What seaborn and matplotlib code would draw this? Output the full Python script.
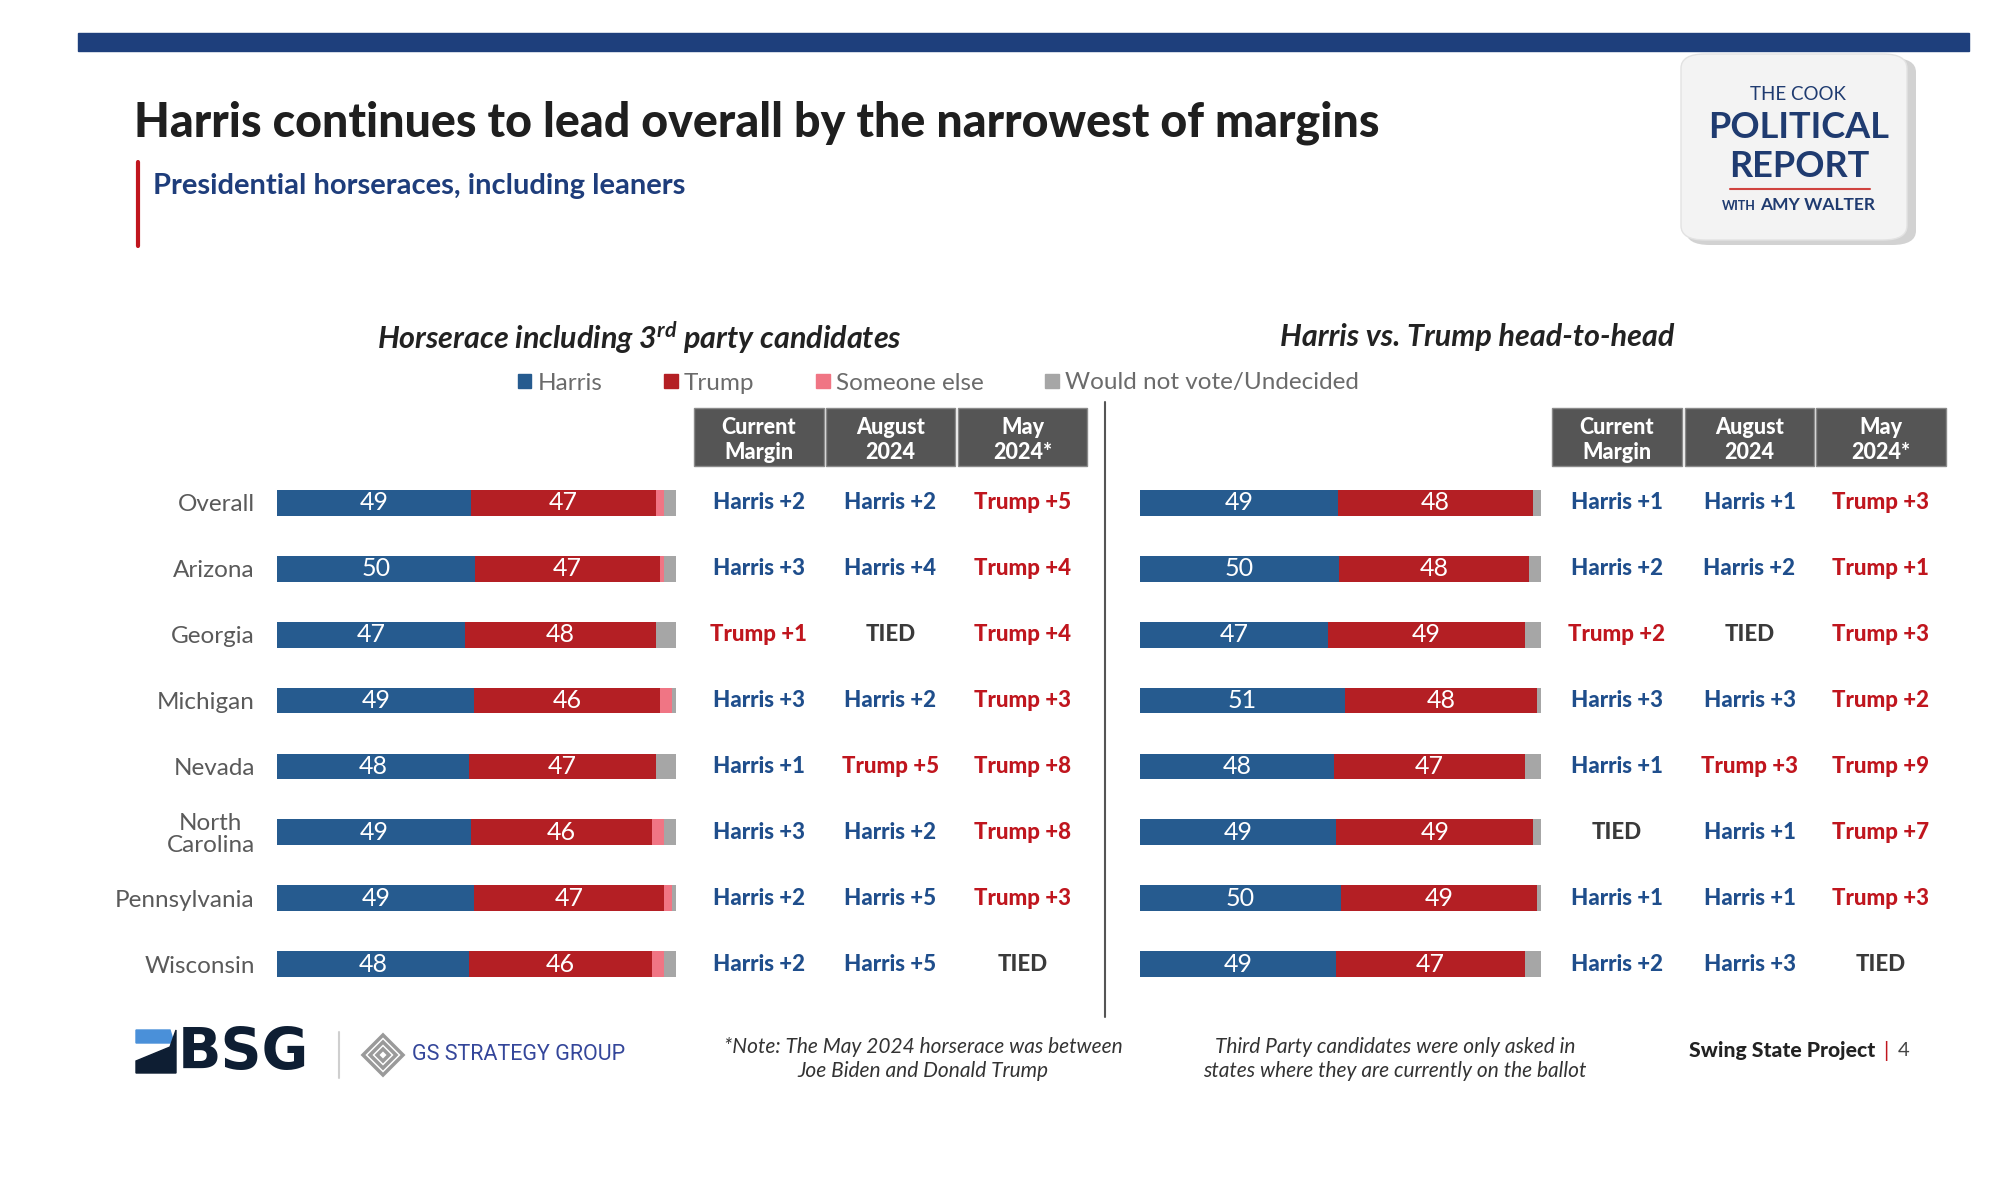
#Swing state horserace chart - two stacked bar panels with margin tables
import seaborn as sns
import numpy as np
import pandas as pd
import matplotlib.pyplot as plt
from matplotlib.patches import Rectangle, FancyBboxPatch, Patch, Polygon
from matplotlib.lines import Line2D
from matplotlib.transforms import blended_transform_factory

#states (rows) shown in both panels
states=['Overall','Arizona','Georgia','Michigan','Nevada','North\nCarolina','Pennsylvania','Wisconsin']

#horserace including 3rd party candidates (%)
harris_3p=[49,50,47,49,48,49,49,48]
trump_3p=[47,47,48,46,47,46,47,46]
someone_3p=[2,1,0,3,0,3,2,3]
undecided_3p=[3,3,5,1,5,3,1,3]

#harris vs trump head-to-head (%)
harris_h2h=[49,50,47,51,48,49,50,49]
trump_h2h=[48,48,49,48,47,49,49,47]
someone_h2h=[0,0,0,0,0,0,0,0]
undecided_h2h=[2,3,4,1,4,2,1,4]

#margin tables
margin_cols=['Current\nMargin','August\n2024','May\n2024*']
current_3p=['Harris +2','Harris +3','Trump +1','Harris +3','Harris +1','Harris +3','Harris +2','Harris +2']
august_3p=['Harris +2','Harris +4','TIED','Harris +2','Trump +5','Harris +2','Harris +5','Harris +5']
may_3p=['Trump +5','Trump +4','Trump +4','Trump +3','Trump +8','Trump +8','Trump +3','TIED']
current_h2h=['Harris +1','Harris +2','Trump +2','Harris +3','Harris +1','TIED','Harris +1','Harris +2']
august_h2h=['Harris +1','Harris +2','TIED','Harris +3','Trump +3','Harris +1','Harris +1','Harris +3']
may_h2h=['Trump +3','Trump +1','Trump +3','Trump +2','Trump +9','Trump +7','Trump +3','TIED']

legend_labels=['Harris','Trump','Someone else','Would not vote/Undecided']

#colors
BLUE='#265B8F'
RED='#B41F24'
PINK='#F07584'
GRAY='#A6A6A6'
NAVY='#1E3F7C'
HEAD='#555555'

sns.set_theme(style="white")
plt.rcParams['font.family']=['Lato','DejaVu Sans']
plt.rcParams['mathtext.fontset']='custom'
plt.rcParams['mathtext.bf']='Lato:bold:italic'

W,H=2000,1187
fig=plt.figure(figsize=(20,11.87),dpi=100)
fig.patch.set_facecolor('white')

#pixel -> figure fraction helpers
def fx(x):
    return x/W
def fy(y):
    return 1-y/H

#row area: first row centre ~503px, last ~964px
row_top=503-33
row_bot=964+33

def draw_panel(ax,h,t,s,u,show_labels):
    df=pd.DataFrame({'state':states,'h':h,'t':t,'s':s,'u':u})
    tot=df[['h','t','s','u']].sum(axis=1)
    for c in ['h','t','s','u']:
        df[c]=df[c]/tot*100
    df['c1']=df['h']
    df['c2']=df['c1']+df['t']
    df['c3']=df['c2']+df['s']
    df['c4']=df['c3']+df['u']
    #stacked bars: draw cumulative totals from back to front
    for col,color in [('c4',GRAY),('c3',PINK),('c2',RED),('c1',BLUE)]:
        sns.barplot(data=df,x=col,y='state',color=color,saturation=1,width=0.39,
                    orient='h',ax=ax,linewidth=0)
    ax.set_xlim(0,100)
    ax.set_ylim(len(states)-0.5,-0.5)
    ax.set_xlabel('')
    ax.set_ylabel('')
    ax.set_xticks([])
    sns.despine(ax=ax,left=True,bottom=True)
    ax.tick_params(axis='y',length=0,pad=16,labelsize=17.5,labelcolor='#5a5a5a')
    if not show_labels:
        ax.set_yticklabels([])
    else:
        for lab in ax.get_yticklabels():
            lab.set_multialignment('center')
            lab.set_linespacing(1.05)
    #value labels in the bars
    for i in range(len(df)):
        ax.text(df['c1'][i]/2,i,str(h[i]),color='white',ha='center',va='center',fontsize=18)
        ax.text(df['c1'][i]+df['t'][i]/2,i,str(t[i]),color='white',ha='center',va='center',fontsize=18)

ax1=fig.add_axes([fx(277),fy(row_bot),fx(676-277),(row_bot-row_top)/H])
ax2=fig.add_axes([fx(1140),fy(row_bot),fx(1541-1140),(row_bot-row_top)/H])
draw_panel(ax1,harris_3p,trump_3p,someone_3p,undecided_3p,True)
draw_panel(ax2,harris_h2h,trump_h2h,someone_h2h,undecided_h2h,False)

#margin tables
def draw_table(ax,boxes,columns):
    tr=blended_transform_factory(fig.transFigure,ax.transData)
    for (x0,x1),name,vals in zip(boxes,margin_cols,columns):
        fig.add_artist(Rectangle((fx(x0),fy(466)),fx(x1-x0),(466-408)/H,
                                 transform=fig.transFigure,facecolor=HEAD,edgecolor='#8a8a8a',lw=1))
        fig.text(fx((x0+x1)/2),fy(440),name,color='white',ha='center',va='center',
                 fontsize=15.5,fontweight='black',linespacing=1.2)
        for i,v in enumerate(vals):
            if v.startswith('Harris'):
                c='#1F4E8C'
            elif v.startswith('Trump'):
                c='#C0161E'
            else:
                c='#3a3a3a'
            ax.text(fx((x0+x1)/2),i,v,transform=tr,color=c,ha='center',va='center',
                    fontsize=16,fontweight='black')

draw_table(ax1,[(694,824),(826,955),(958,1087)],[current_3p,august_3p,may_3p])
draw_table(ax2,[(1552,1682),(1685,1814),(1816,1946)],[current_h2h,august_h2h,may_h2h])

#divider between panels
fig.add_artist(Line2D([fx(1105)]*2,[fy(402),fy(1017)],color='#555555',lw=1.5))

#top banner
fig.add_artist(Rectangle((fx(78),fy(51)),fx(1969-78),18/H,transform=fig.transFigure,color=NAVY))

#title and subtitle
fig.text(fx(134),fy(123),'Harris continues to lead overall by the narrowest of margins',
         fontsize=33.5,fontweight='black',color='#1f1f1f',va='center',ha='left')
fig.add_artist(Line2D([fx(138)]*2,[fy(162),fy(246)],color='#C0161E',lw=3))
fig.text(fx(153),fy(186),'Presidential horseraces, including leaners',
         fontsize=21,fontweight='bold',color='#1E3D7B',va='center',ha='left')

#panel titles
fig.text(fx(639),fy(337),r'Horserace including 3$^{\mathbf{rd}}$ party candidates',
         fontsize=22,fontweight='bold',style='italic',color='#222222',ha='center',va='center')
fig.text(fx(1477),fy(337),'Harris vs. Trump head-to-head',
         fontsize=22,fontweight='bold',style='italic',color='#222222',ha='center',va='center')

#legend
handles=[Patch(color=c) for c in [BLUE,RED,PINK,GRAY]]
fig.legend(handles,legend_labels,loc='center left',bbox_to_anchor=(fx(518),fy(383)),ncol=4,
           frameon=False,fontsize=17.5,labelcolor='#6b6b6b',handlelength=0.55,handleheight=0.55,
           handletextpad=0.25,columnspacing=2.55,borderpad=0,borderaxespad=0)

#cook political report logo box
fig.add_artist(FancyBboxPatch((fx(1686),fy(245)),fx(1913-1683),(245-58)/H,
               boxstyle='round,pad=0,rounding_size=0.012',transform=fig.transFigure,
               facecolor='#d2d2d2',edgecolor='none'))
fig.add_artist(FancyBboxPatch((fx(1681),fy(240)),fx(1907-1681),(240-54)/H,
               boxstyle='round,pad=0,rounding_size=0.012',transform=fig.transFigure,
               facecolor='#f3f3f3',edgecolor='#e2e2e2',lw=1))
fig.text(fx(1798),fy(95),'THE COOK',fontsize=13.5,color='#1F3B70',ha='center',va='center')
fig.text(fx(1799),fy(127),'POLITICAL',fontsize=26,fontweight='bold',color='#1F3B70',ha='center',va='center')
fig.text(fx(1799),fy(167),'REPORT',fontsize=26,fontweight='bold',color='#1F3B70',ha='center',va='center')
fig.add_artist(Line2D([fx(1730),fx(1870)],[fy(189)]*2,color='#D0433F',lw=1.5))
fig.text(fx(1756),fy(206),'WITH',fontsize=9,color='#1F3B70',ha='right',va='center',fontweight='bold')
fig.text(fx(1760),fy(205),'AMY WALTER',fontsize=12.5,color='#1F3B70',ha='left',va='center',fontweight='bold')

#BSG logo
fig.add_artist(Polygon([[fx(136),fy(1043)],[fx(174),fy(1043)],[fx(170),fy(1030)],[fx(136),fy(1030)]],
               closed=True,transform=fig.transFigure,color='#4A90D9'))
fig.add_artist(Polygon([[fx(136),fy(1073)],[fx(176),fy(1073)],[fx(176),fy(1030)],[fx(170),fy(1047)],
               [fx(136),fy(1061)]],closed=True,transform=fig.transFigure,color='#0E1E33'))
fig.text(fx(178),fy(1053),'BSG',fontsize=41,fontweight='bold',color='#0E1E33',ha='left',va='center',
         fontfamily=['DejaVu Sans'])
fig.add_artist(Line2D([fx(339)]*2,[fy(1032),fy(1078)],color='#cfcfcf',lw=1.5))
for r in [20,13,6]:
    fig.add_artist(Polygon([[fx(383-r),fy(1055)],[fx(383),fy(1055-r)],[fx(383+r),fy(1055)],[fx(383),fy(1055+r)]],
                   closed=True,transform=fig.transFigure,fill=False,edgecolor='#9a9a9a',lw=2.5))
fig.text(fx(412),fy(1055),'GS STRATEGY GROUP',fontsize=15.5,color='#34469A',ha='left',va='center',
         fontfamily=['Roboto','DejaVu Sans'])

#footnotes
fig.text(fx(923),fy(1059),'*Note: The May 2024 horserace was between\nJoe Biden and Donald Trump',
         fontsize=15,style='italic',color='#333333',ha='center',va='center',linespacing=1.3)
fig.text(fx(1395),fy(1059),'Third Party candidates were only asked in\nstates where they are currently on the ballot',
         fontsize=15,style='italic',color='#333333',ha='center',va='center',linespacing=1.3)
fig.text(fx(1689),fy(1051),'Swing State Project',fontsize=15.2,fontweight='black',color='#222222',ha='left',va='center')
fig.text(fx(1886),fy(1051),'|',fontsize=15,color='#C0161E',ha='center',va='center')
fig.text(fx(1904),fy(1051),'4',fontsize=14.5,color='#444444',ha='center',va='center')

plt.savefig('out.png',dpi=100,facecolor='white')
